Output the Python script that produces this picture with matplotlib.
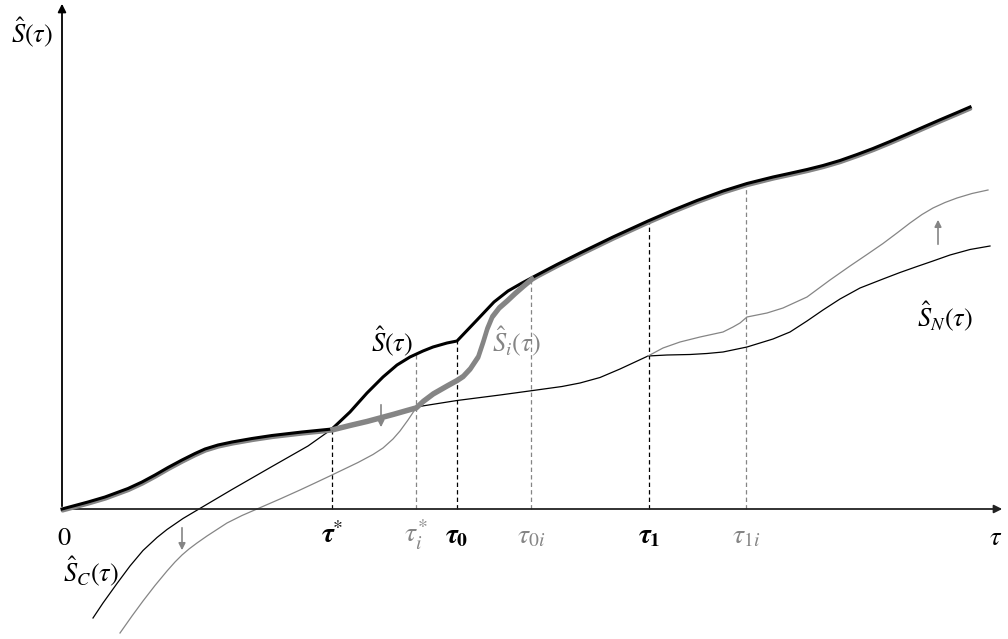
import numpy as np
import matplotlib
matplotlib.use("Agg")
import matplotlib.pyplot as plt
from matplotlib.transforms import offset_copy

plt.rcParams["mathtext.fontset"] = "stix"

# Aggregate curve S(tau), drawn thick black
s_tau = np.array([0, 13, 26, 43, 66, 80, 93, 106, 120, 133, 143, 156, 170, 190, 210,
                  240, 270, 288, 305, 321, 335, 348, 361, 371, 385, 395, 415, 432,
                  446, 460, 475, 495, 518, 551, 586, 611, 635, 661, 685, 711, 728,
                  745, 761, 778, 795, 811, 828, 845, 861, 878, 895, 908])
s_val = np.array([0, 3.5, 7, 12, 20.5, 27, 34, 41.5, 49, 55.5, 60, 64, 67, 70.5,
                  73.5, 77, 80, 97, 116, 132, 144, 152, 158, 162, 166, 168, 189,
                  207, 218, 226, 234, 244.5, 256, 272, 288, 298.8, 308.5, 318,
                  325.5, 332, 335.7, 339.5, 343.5, 348.5, 354.5, 360.5, 367.5,
                  374.8, 381.8, 389.2, 396.4, 402])

# Individual curve S_i(tau) between tau* and tau_0i (elsewhere equal to S)
si_tau = np.array([270, 288, 305, 318, 331, 345, 354, 361, 371, 385, 395, 401,
                   408, 416, 421, 425, 430, 437, 445, 453, 461, 470])
si_val = np.array([80, 84.5, 88.5, 92, 95.5, 99.5, 102, 108.5, 116, 124, 129.5,
                   133.5, 141, 153, 168, 181, 193, 202, 209, 216.5, 223.5, 231])

# Thin black curve: S_C below tau*, S_N above
sn_tau = np.array([31, 41, 55, 68, 81, 95, 105, 121, 137, 170, 210, 246, 270,
                   288, 305, 318, 331, 345, 354, 395, 438, 471, 500, 518, 538,
                   558, 586, 605, 628, 645, 661, 685, 711, 728, 745, 761, 778,
                   798, 821, 838, 855, 871, 888, 908, 928])
sn_val = np.array([-109, -94, -74.5, -57, -41.5, -28.5, -20.5, -9.5, 0, 19.5,
                   42.5, 63, 80, 84.5, 88.5, 92, 95.5, 99.5, 102, 108.5, 114,
                   118.5, 122.5, 126, 131.5, 140, 153, 154, 154.5, 155.5, 157,
                   162, 170, 177, 188, 199, 210, 221, 230, 236.5, 242.5, 248,
                   254, 259.5, 263])

# Shifted thin gray curves (left: S_C moved down, right: S_N moved up)
sc_new_tau = np.array([58, 70, 81, 93, 105, 113, 120, 127, 135, 145, 155, 165,
                       180, 195, 218, 238, 253, 271, 296, 311, 321, 331, 338,
                       346, 354])
sc_new_val = np.array([-124, -107, -92, -76.5, -62, -53, -46, -40, -34, -27,
                       -20.5, -14, -6.5, 0, 10, 19, 26, 34.5, 46.5, 54.5, 61,
                       70, 78, 89, 101])
sn_new_tau = np.array([586, 601, 618, 638, 661, 671, 678, 685, 705, 721, 745,
                       768, 788, 805, 821, 835, 848, 860, 871, 883, 895, 910, 926])
sn_new_val = np.array([153, 161, 167, 172, 177, 182, 186, 192, 196, 201, 212,
                       229, 243, 254.5, 265.5, 276, 286, 294.5, 301, 306.5,
                       311, 315.5, 319])

# Marked times on the tau axis
tick_pos = [270, 354, 395, 469, 587, 684]
tick_labels = [r"$\boldsymbol{\tau}^{*}$", r"$\tau_i^{*}$", r"$\boldsymbol{\tau}_{\mathbf{0}}$",
               r"$\tau_{0i}$", r"$\boldsymbol{\tau}_{\mathbf{1}}$", r"$\tau_{1i}$"]
tick_black = [True, False, True, False, True, False]

GRAY = "#858585"

fig = plt.figure(figsize=(10.08, 6.39), dpi=100)
ax = fig.add_axes([0, 0, 1, 1])
ax.set_xlim(-62, 946)
ax.set_ylim(-130, 509)
ax.axis("off")

# axes with arrow heads
ax.annotate("", xy=(943, 0), xytext=(0, 0),
            arrowprops=dict(arrowstyle="-|>", color="#222222", lw=1.3, mutation_scale=12))
ax.annotate("", xy=(0, 508), xytext=(0, 0),
            arrowprops=dict(arrowstyle="-|>", color="black", lw=1.3, mutation_scale=12))

# dashed guides up to S(tau)
for x, black in zip(tick_pos, tick_black):
    top = np.interp(x, s_tau, s_val)
    ax.plot([x, x], [0, top], ls=(0, (3.5, 2.5)), lw=0.9,
            color="black" if black else GRAY, zorder=1)

# thin curves
ax.plot(sn_tau, sn_val, color="black", lw=0.9, zorder=2)
ax.plot(sc_new_tau, sc_new_val, color=GRAY, lw=0.9, zorder=2)
ax.plot(sn_new_tau, sn_new_val, color=GRAY, lw=0.9, zorder=2)

# S_i: same as S outside [tau*, tau_0i]
left = s_tau < si_tau[0]
right = s_tau > si_tau[-1]
si_all_tau = np.concatenate([s_tau[left], si_tau, s_tau[right]])
si_all_val = np.concatenate([s_val[left], si_val, s_val[right]])
shadow = offset_copy(ax.transData, fig=fig, x=0.4, y=-1.3, units="points")
ax.plot(si_all_tau, si_all_val, color=GRAY, lw=2.6, zorder=3,
        transform=shadow, solid_capstyle="round", solid_joinstyle="round")
ax.plot(s_tau, s_val, color="black", lw=2.2, zorder=4, solid_joinstyle="round")
ax.plot(si_tau, si_val, color=GRAY, lw=2.6, zorder=5, solid_joinstyle="round")

# shift arrows
arrow_kw = dict(arrowstyle="-|>", color=GRAY, lw=1.2, mutation_scale=10)
ax.annotate("", xy=(120, -44), xytext=(120, -16), arrowprops=arrow_kw)
ax.annotate("", xy=(319, 79), xytext=(319, 107), arrowprops=arrow_kw)
ax.annotate("", xy=(876, 292), xytext=(876, 262), arrowprops=arrow_kw)

# labels
fs = 19
ax.text(-30, 476, r"$\hat{S}(\tau)$", fontsize=fs, ha="center", va="center")
ax.text(2, -36, r"$0$", fontsize=fs, ha="center", va="baseline")
ax.text(934, -36, r"$\tau$", fontsize=fs, ha="center", va="baseline")
ax.text(29, -63, r"$\hat{S}_C(\tau)$", fontsize=fs, ha="center", va="center")
ax.text(883, 192, r"$\hat{S}_N(\tau)$", fontsize=fs, ha="center", va="center")
ax.text(330, 167, r"$\hat{S}(\tau)$", fontsize=fs, ha="center", va="center")
ax.text(455, 167, r"$\hat{S}_i(\tau)$", fontsize=fs, ha="center", va="center", color=GRAY)
for x, lab, black in zip(tick_pos, tick_labels, tick_black):
    ax.text(x, -34, lab, fontsize=fs + 1, ha="center", va="baseline",
            color="black" if black else GRAY)

fig.savefig("out.png", dpi=100)
